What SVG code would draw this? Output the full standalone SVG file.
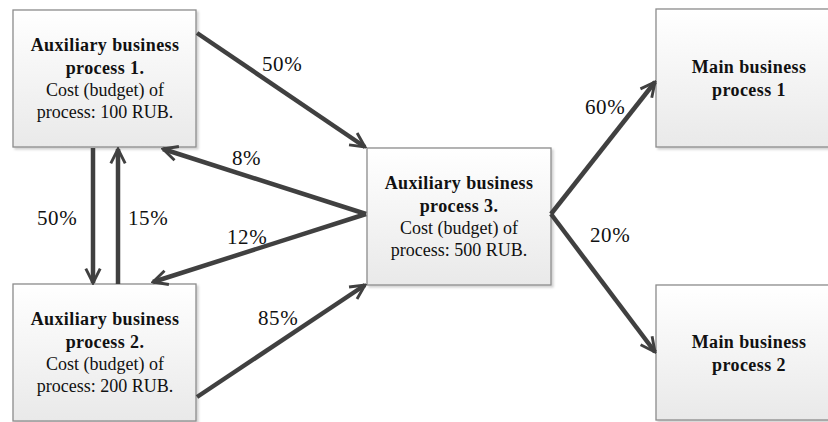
<svg xmlns="http://www.w3.org/2000/svg" width="828" height="422" viewBox="0 0 828 422">
<style>
.box{fill:url(#g);stroke:#8c8c8c;stroke-width:1.3}
.t{font-family:"Liberation Serif","Times New Roman",serif;font-size:18px;fill:#111;text-anchor:middle}
.b{font-weight:bold;letter-spacing:0.4px}
.p{font-family:"Liberation Serif","Times New Roman",serif;font-size:21px;fill:#111;letter-spacing:0.6px}
.c{stroke:#404040;stroke-width:4.5;fill:none;marker-end:url(#ah)}
</style>
<defs>
<linearGradient id="g" x1="0" y1="0" x2="0" y2="1">
<stop offset="0" stop-color="#ffffff"/>
<stop offset="1" stop-color="#e9e9e9"/>
</linearGradient>
<filter id="sh" x="-5%" y="-5%" width="115%" height="115%">
<feDropShadow dx="2" dy="2" stdDeviation="1.2" flood-color="#000" flood-opacity="0.18"/>
</filter>
<marker id="ah" viewBox="0 0 10 10" refX="9" refY="5" markerWidth="4" markerHeight="4" orient="auto" markerUnits="strokeWidth">
<path d="M1,1 L9,5 L1,9" fill="none" stroke="#404040" stroke-width="1.6" stroke-linejoin="miter"/>
</marker>
</defs>
<g id="aux1">
<rect class="box" x="13" y="10" width="183" height="137" filter="url(#sh)"/>
<text class="t b" x="105" y="51">Auxiliary business</text>
<text class="t b" x="105" y="74">process 1.</text>
<text class="t" x="105" y="96">Cost (budget) of</text>
<text class="t" x="105" y="118">process: 100 RUB.</text>
</g>
<g id="aux2">
<rect class="box" x="13" y="284" width="183" height="137" filter="url(#sh)"/>
<text class="t b" x="105" y="325">Auxiliary business</text>
<text class="t b" x="105" y="348">process 2.</text>
<text class="t" x="105" y="370">Cost (budget) of</text>
<text class="t" x="105" y="392">process: 200 RUB.</text>
</g>
<g id="aux3">
<rect class="box" x="367" y="148" width="184" height="137" filter="url(#sh)"/>
<text class="t b" x="459" y="189">Auxiliary business</text>
<text class="t b" x="459" y="212">process 3.</text>
<text class="t" x="459" y="234">Cost (budget) of</text>
<text class="t" x="459" y="256">process: 500 RUB.</text>
</g>
<g id="main1">
<rect class="box" x="656" y="9" width="190" height="138" filter="url(#sh)"/>
<text class="t b" x="749" y="73">Main business</text>
<text class="t b" x="749" y="96">process 1</text>
</g>
<g id="main2">
<rect class="box" x="656" y="285" width="190" height="135" filter="url(#sh)"/>
<text class="t b" x="749" y="348">Main business</text>
<text class="t b" x="749" y="371">process 2</text>
</g>
<g id="connectors">
<line class="c" x1="197" y1="33" x2="365" y2="147"/>
<line class="c" x1="366" y1="214" x2="163" y2="149"/>
<line class="c" x1="366" y1="214" x2="153" y2="282"/>
<line class="c" x1="197" y1="397" x2="365" y2="285"/>
<line class="c" x1="93" y1="148" x2="93" y2="283"/>
<line class="c" x1="118" y1="284" x2="118" y2="149"/>
<line class="c" x1="551" y1="214" x2="655" y2="82"/>
<line class="c" x1="551" y1="214" x2="655" y2="352"/>
</g>
<g id="labels">
<text class="p" x="262" y="71">50%</text>
<text class="p" x="232" y="165">8%</text>
<text class="p" x="37" y="225">50%</text>
<text class="p" x="128" y="225">15%</text>
<text class="p" x="227" y="244">12%</text>
<text class="p" x="258" y="325">85%</text>
<text class="p" x="585" y="114">60%</text>
<text class="p" x="590" y="242">20%</text>
</g>
</svg>
